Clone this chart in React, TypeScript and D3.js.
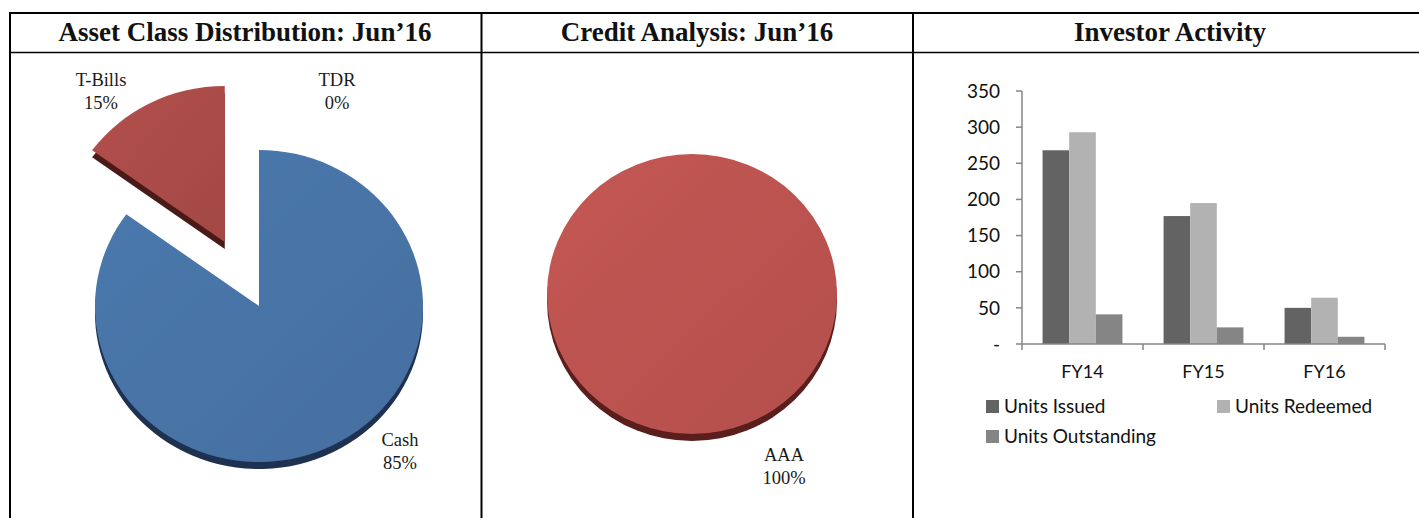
import React from "react";
import * as d3 from "d3";

// ---------- data ----------
const panelTitles = ["Asset Class Distribution: Jun\u201916", "Credit Analysis: Jun\u201916", "Investor Activity"];

const assetLabels = ["Cash", "T-Bills", "TDR"];
const assetValues = [85, 15, 0];

const creditLabels = ["AAA"];
const creditValues = [100];

const years = ["FY14", "FY15", "FY16"];
const seriesNames = ["Units Issued", "Units Redeemed", "Units Outstanding"];
const unitsIssued = [268, 177, 50];
const unitsRedeemed = [293, 195, 64];
const unitsOutstanding = [41, 23, 10];
const yTicks = [0, 50, 100, 150, 200, 250, 300, 350];

// ---------- styles ----------
const W = 1419;
const H = 518;
const serif = "'Liberation Serif', 'DejaVu Serif', serif";
const sans = "Lato, 'Open Sans', 'Liberation Sans', sans-serif";
const assetColors = ["#4773A5", "#A94B48", "#8EA84E"];
const assetSide = ["#1E3150", "#4A1A18", "#3C4A20"];
const creditColors = ["#BA524F"];
const creditSide = ["#5A1E1C"];
const barColors = ["#636363", "#B2B2B2", "#858585"];

type PieProps = {
  cx: number; cy: number; rx: number; ry: number; depth: number;
  values: number[]; labels: string[]; colors: string[]; sides: string[];
  explode: number[]; labelPos: [number, number][]; idp: string;
};

function Pie3D({ cx, cy, rx, ry, depth, values, labels, colors, sides, explode, labelPos, idp }: PieProps) {
  const pie = d3.pie<number>().sort(null).value((d) => d)(values);
  const arc = d3.arc<d3.PieArcDatum<number>>().innerRadius(0).outerRadius(1);
  const offs = pie.map((p, i) => {
    const mid = (p.startAngle + p.endAngle) / 2;
    const e = explode[i] || 0;
    return [Math.sin(mid) * e * rx, -Math.cos(mid) * e * ry];
  });
  return (
    <g>
      <defs>
        {colors.map((c, i) => (
          <linearGradient key={i} id={`${idp}g${i}`} x1="0" y1="0" x2="1" y2="1">
            <stop offset="0" stopColor={d3.color(c)!.brighter(0.15).toString()} />
            <stop offset="1" stopColor={d3.color(c)!.darker(0.1).toString()} />
          </linearGradient>
        ))}
      </defs>
      {pie.map((p, i) =>
        p.value > 0 ? (
          <g key={"s" + i} transform={`translate(${cx + offs[i][0]},${cy + offs[i][1] + depth}) scale(${rx},${ry})`}>
            <path d={arc(p) || ""} fill={sides[i]} />
          </g>
        ) : null
      )}
      {pie.map((p, i) =>
        p.value > 0 ? (
          <g key={"t" + i} transform={`translate(${cx + offs[i][0]},${cy + offs[i][1]}) scale(${rx},${ry})`}>
            <path d={arc(p) || ""} fill={`url(#${idp}g${i})`} />
          </g>
        ) : null
      )}
      {labels.map((l, i) => (
        <text key={"l" + i} x={cx + labelPos[i][0]} y={cy + labelPos[i][1]} textAnchor="middle"
          fontFamily={serif} fontSize={18.5} fill="#1a1a1a">
          <tspan x={cx + labelPos[i][0]} dy="0">{l}</tspan>
          <tspan x={cx + labelPos[i][0]} dy="23">{`${Math.round(values[i])}%`}</tspan>
        </text>
      ))}
    </g>
  );
}

function BarChart() {
  const x0 = 1022, x1 = 1385, yTop = 91, yBase = 344;
  const x = d3.scaleBand<string>().domain(years).range([x0, x1]).padding(0);
  const bw = x.bandwidth();
  const xi = d3.scaleBand<string>().domain(seriesNames).range([bw * 0.17, bw * 0.83]).padding(0);
  const y = d3.scaleLinear().domain([0, 350]).range([yBase, yTop]);
  const series = [unitsIssued, unitsRedeemed, unitsOutstanding];
  const axisColor = "#868686";
  const boundaries = [...years.map((yy) => x(yy)!), x1];
  const legend = [
    { name: seriesNames[0], lx: 986, ly: 400 },
    { name: seriesNames[1], lx: 1217, ly: 400 },
    { name: seriesNames[2], lx: 986, ly: 430 },
  ];
  return (
    <g>
      {series.map((vals, si) =>
        years.map((yr, yi) => (
          <rect key={`${si}-${yi}`} x={x(yr)! + xi(seriesNames[si])!} y={y(vals[yi])}
            width={xi.bandwidth()} height={yBase - y(vals[yi])} fill={barColors[si]} />
        ))
      )}
      <line x1={x0} x2={x0} y1={yTop} y2={yBase} stroke={axisColor} strokeWidth={1.5} />
      <line x1={x0} x2={x1} y1={yBase} y2={yBase} stroke={axisColor} strokeWidth={1.5} />
      {yTicks.map((t) => (
        <g key={t}>
          <line x1={x0 - 6} x2={x0} y1={y(t)} y2={y(t)} stroke={axisColor} strokeWidth={1.5} />
          <text x={1000} y={y(t)} dy="0.35em" textAnchor="end" fontFamily={sans} fontSize={19} fill="#111">
            {t === 0 ? "-" : t}
          </text>
        </g>
      ))}
      {boundaries.map((b, i) => (
        <line key={i} x1={b} x2={b} y1={yBase} y2={yBase + 6} stroke={axisColor} strokeWidth={1.5} />
      ))}
      {years.map((yr) => (
        <text key={yr} x={x(yr)! + bw / 2} y={372} dy="0.35em" textAnchor="middle" fontFamily={sans} fontSize={18} fill="#111">
          {yr}
        </text>
      ))}
      {legend.map((l, i) => (
        <g key={i}>
          <rect x={l.lx} y={l.ly} width={13} height={13} fill={barColors[i]} />
          <text x={l.lx + 18} y={l.ly + 6.5} dy="0.35em" fontFamily={sans} fontSize={19} fill="#111">
            {l.name}
          </text>
        </g>
      ))}
    </g>
  );
}

export default function App() {
  return (
    <svg width={W} height={H} style={{ position: "absolute", left: 0, top: 0, background: "#fff" }}>
      <rect width={W} height={H} fill="#fff" />
      {/* table grid */}
      <line x1={9} x2={W} y1={13} y2={13} stroke="#000" strokeWidth={2} />
      <line x1={9} x2={W} y1={52.5} y2={52.5} stroke="#000" strokeWidth={1.5} />
      <line x1={10} x2={10} y1={12} y2={H} stroke="#000" strokeWidth={2} />
      <line x1={481.5} x2={481.5} y1={12} y2={H} stroke="#000" strokeWidth={2} />
      <line x1={913} x2={913} y1={12} y2={H} stroke="#000" strokeWidth={2} />
      {/* titles */}
      {[245, 697, 1170].map((cx, i) => (
        <text key={i} x={cx} y={41} textAnchor="middle" fontFamily={serif} fontWeight="bold" fontSize={27} fill="#111">
          {panelTitles[i]}
        </text>
      ))}
      <Pie3D cx={259} cy={306} rx={164} ry={156} depth={7} values={assetValues} labels={assetLabels}
        colors={assetColors} sides={assetSide} explode={[0, 0.46, 0]}
        labelPos={[[141, 140], [-158, -220], [78, -220]]} idp="a" />
      <Pie3D cx={692} cy={294} rx={145} ry={140} depth={7} values={creditValues} labels={creditLabels}
        colors={creditColors} sides={creditSide} explode={[0]} labelPos={[[92, 167]]} idp="c" />
      <BarChart />
    </svg>
  );
}
